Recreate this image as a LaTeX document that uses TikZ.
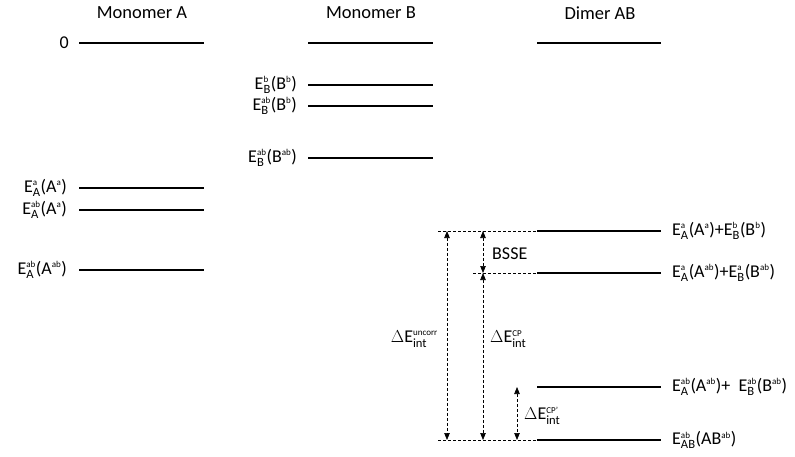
\documentclass[tikz,border=0pt]{standalone}
\usepackage{amsmath}
\usepackage{fontspec}
\setmainfont{Carlito}
\usetikzlibrary{arrows.meta}
\newcommand{\sps}[2]{$^{\scriptscriptstyle\text{#1}}_{\text{#2}}$}
\newcommand{\spp}[1]{$^{\scriptscriptstyle\text{#1}}$}
\begin{document}
\begin{tikzpicture}[x=1pt,y=-1pt,
  every node/.style={font=\fontsize{18}{21}\selectfont, inner sep=0pt},
  title/.style={font=\fontsize{18.5}{21}\selectfont},
  level/.style={line width=1.6pt},
  guide/.style={line width=0.7pt, dash pattern=on 3pt off 2pt},
  darr/.style={guide, {Triangle[length=7pt,width=5.5pt]}-{Triangle[length=7pt,width=5.5pt]}}]
\useasboundingbox (0,0) rectangle (795,456);
% titles
\node[title] (tA) at (142,13) {Monomer A};
\node[title] (tB) at (371,13) {Monomer B};
\node[title] (tD) at (600,13) {Dimer AB};
% Monomer A
\coordinate (a0l) at (79,43);  \coordinate (a0r) at (204,43);
\coordinate (a1l) at (79,188); \coordinate (a1r) at (204,188);
\coordinate (a2l) at (79,210); \coordinate (a2r) at (204,210);
\coordinate (a3l) at (79,270); \coordinate (a3r) at (204,270);
\draw[level] (a0l) -- (a0r);
\draw[level] (a1l) -- (a1r);
\draw[level] (a2l) -- (a2r);
\draw[level] (a3l) -- (a3r);
\node[anchor=east] (la0) at (69,43) {0};
\node[anchor=east] (la1) at (67,188) {E\sps{a}{A}(A\spp{a})};
\node[anchor=east] (la2) at (67,210) {E\sps{ab}{A}(A\spp{a})};
\node[anchor=east] (la3) at (67,270) {E\sps{ab}{A}(A\spp{ab})};
% Monomer B
\coordinate (b0l) at (308,43);  \coordinate (b0r) at (433,43);
\coordinate (b1l) at (308,85);  \coordinate (b1r) at (433,85);
\coordinate (b2l) at (308,106); \coordinate (b2r) at (433,106);
\coordinate (b3l) at (308,158); \coordinate (b3r) at (433,158);
\draw[level] (b0l) -- (b0r);
\draw[level] (b1l) -- (b1r);
\draw[level] (b2l) -- (b2r);
\draw[level] (b3l) -- (b3r);
\node[anchor=east] (lb1) at (297,85) {E\sps{b}{B}(B\spp{b})};
\node[anchor=east] (lb2) at (297,106) {E\sps{ab}{B}(B\spp{b})};
\node[anchor=east] (lb3) at (297,158) {E\sps{ab}{B}(B\spp{ab})};
% Dimer AB
\coordinate (d0l) at (537,43);  \coordinate (d0r) at (661,43);
\coordinate (d1l) at (537,231); \coordinate (d1r) at (661,231);
\coordinate (d2l) at (537,273); \coordinate (d2r) at (661,273);
\coordinate (d3l) at (537,387); \coordinate (d3r) at (661,387);
\coordinate (d4l) at (537,440); \coordinate (d4r) at (661,440);
\draw[level] (d0l) -- (d0r);
\draw[level] (d1l) -- (d1r);
\draw[level] (d2l) -- (d2r);
\draw[level] (d3l) -- (d3r);
\draw[level] (d4l) -- (d4r);
\node[anchor=west] (ld1) at (672,231) {E\sps{a}{A}(A\spp{a})+E\sps{b}{B}(B\spp{b})};
\node[anchor=west] (ld2) at (672,273) {E\sps{a}{A}(A\spp{ab})+E\sps{a}{B}(B\spp{ab})};
\node[anchor=west] (ld3) at (672,387) {E\sps{ab}{A}(A\spp{ab})+\ \ E\sps{ab}{B}(B\spp{ab})};
\node[anchor=west] (ld4) at (672,440) {E\sps{ab}{AB}(AB\spp{ab})};
% guide lines
\coordinate (g1) at (438,231);
\coordinate (g2) at (473,273);
\coordinate (g4) at (438,440);
\draw[guide] (g1) -- (d1l);
\draw[guide] (g2) -- (d2l);
\draw[guide] (g4) -- (d4l);
% arrows
\coordinate (u1) at (447,231); \coordinate (u2) at (447,440);
\coordinate (c1) at (483,231); \coordinate (c2) at (483,273); \coordinate (c3) at (483,440);
\coordinate (p1) at (517,387); \coordinate (p2) at (517,440);
\draw[darr] (u1) -- (u2);
\draw[darr] (c1) -- (c2);
\draw[darr] (c2) -- (c3);
\draw[darr] (p1) -- (p2);
\node[anchor=west] (bsse) at (492,254) {BSSE};
\node[anchor=east] (dun) at (438,339) {$\Delta$E\sps{uncorr}{int}};
\node[anchor=west] (dcp) at (490,339) {$\Delta$E\sps{CP}{int}};
\node[anchor=west] (dcpp) at (524,416) {$\Delta$E\sps{CP'}{int}};
\end{tikzpicture}
\end{document}
